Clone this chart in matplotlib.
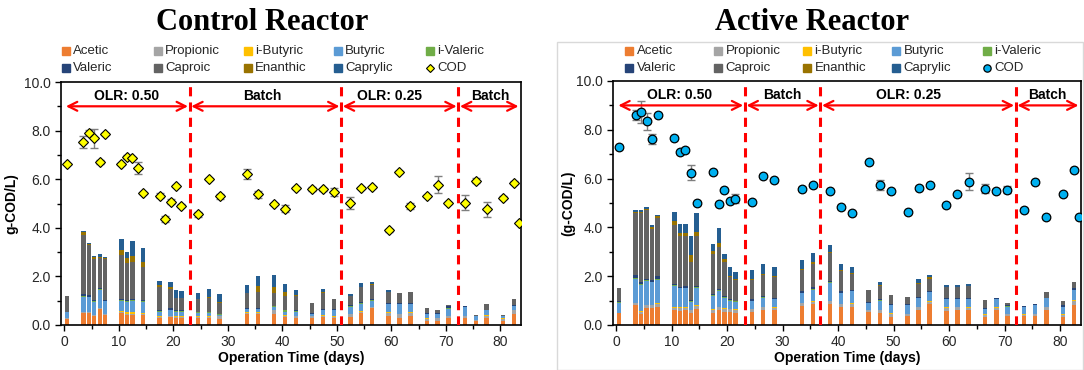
import numpy as np
import matplotlib.pyplot as plt
from matplotlib.lines import Line2D
from matplotlib.patches import Rectangle
from matplotlib.ticker import MultipleLocator, FormatStrFormatter

plt.rcParams['font.family'] = ['Liberation Sans', 'DejaVu Sans']

# Componentes (ácidos) ------------------------------------------
acids = ["Acetic", "Propionic", "i-Butyric", "Butyric", "i-Valeric",
         "Valeric", "Caproic", "Enanthic", "Caprylic"]
acid_colors = ["#ED7D31", "#A5A5A5", "#FFC000", "#5B9BD5", "#70AD47",
               "#264478", "#636363", "#997300", "#255E91"]

# Dias de amostragem
cod_days = [0.5, 3.5, 4.5, 5.5, 6.5, 7.5, 10.5, 11.5, 12.5, 13.5, 14.5, 17.5, 18.5, 19.5,
            20.5, 21.5, 24.5, 26.5, 28.5, 33.5, 35.5, 38.5, 40.5, 42.5, 45.5, 47.5, 49.5,
            52.5, 54.5, 56.5, 59.5, 61.5, 63.5, 66.5, 68.5, 70.5, 73.5, 75.5, 77.5, 80.5,
            82.5, 83.4]

# Control reactor -------------------------------------------------
ctrl_cod = [6.64, 7.54, 7.91, 7.68, 6.69, 7.87, 6.62, 6.92, 6.88, 6.45, 5.43, 5.32, 4.36, 5.08,
            5.71, 4.91, 4.55, 6.0, 5.3, 6.2, 5.38, 4.98, 4.79, 5.63, 5.6, 5.58, 5.47, 5.02,
            5.63, 5.68, 3.89, 6.29, 4.91, 5.31, 5.78, 5.02, 5.03, 5.93, 4.76, 5.24, 5.86, 4.2]
ctrl_err = [0, .25, .1, .4, .08, .05, .05, .08, .05, .25, .05, .1, .12, .1, .05, .05, .1, .05,
            .1, .2, .15, .05, .15, .05, .08, .05, .18, .25, .05, .05, .08, .05, .12, .05, .35,
            .05, .3, .1, .3, .05, .05, 0]
ctrl_bar_days = [0.5, 3.5, 4.5, 5.5, 6.5, 7.5, 10.5, 11.5, 12.5, 14.5, 17.5, 19.5, 20.5, 21.5,
                 24.5, 26.5, 28.5, 33.5, 35.5, 38.5, 40.5, 42.5, 45.5, 47.5, 49.5, 52.5, 54.5,
                 56.5, 59.5, 61.5, 63.5, 66.5, 68.5, 70.5, 73.5, 75.5, 77.5, 80.5, 82.5]
ctrl_acetic = [.23, .48, .48, .35, .65, .40, .48, .42, .42, .40, .30, .32, .30, .30, .30, .30,
               .25, .45, .45, .45, .33, .30, .30, .33, .30, .33, .50, .68, .38, .30, .38, .15,
               .15, .30, .30, .15, .30, .15, .45]
ctrl_propionic = [.05, .05, .05, .05, .05, .05, .04, .05, .05, .04, .04, .04, .04, .04, .03, .03,
                  .10, .05, .05, .15, .05, .05, .05, .05, .03, .12, .05, .05, .12, .15, .12, .10,
                  .13, .05, .05, .05, .08, .10, .15]
ctrl_ibutyric = [0, .02, .02, .02, .02, .02, .05, .05, .05, .06, .02, .02, .02, .02, .02, .02,
                 .02, .02, .02, .02, .02, .02, .02, .02, .04, .02, .03, .02, .02, .02, .02, .03,
                 .02, .02, .02, .02, .02, .02, .02]
ctrl_butyric = [.24, .62, .60, .53, .73, .50, .43, .43, .48, .45, .19, .22, .19, .19, .15, .15,
                .05, .13, .13, .13, .15, .18, .08, .20, .23, .28, .27, .25, .33, .38, .33, .17,
                .15, .28, .38, .13, .20, .08, .18]
ctrl_ivaleric = [0, .02, .02, .02, .02, .02, .02, .02, .02, .02, .02, .03, .02, .02, .02, .02,
                 .02, .02, .02, .02, .05, .02, .02, .02, .02, .02, .05, .02, .02, .02, .02, .02,
                 .02, .05, 0, 0, 0, 0, 0]
ctrl_valeric = [.02, .08, .07, .05, .05, .05, .05, .05, .05, .05, .05, .05, .05, .05, .03, .03,
                .03, .03, .05, .03, .03, .03, .03, .05, .03, .05, .05, .03, .03, .03, .03, .03,
                .03, .10, .03, .03, .02, .02, .02]
ctrl_caproic = [.67, 2.44, 2.06, 1.70, 1.23, 1.66, 1.83, 1.53, 1.53, 1.38, .93, .82, .48, .48,
                .50, .55, .43, .60, .63, .50, .57, .60, .40, .63, .42, .38, .60, .60, .45, .40,
                .45, .19, .10, .01, 0, .02, .25, .06, .25]
ctrl_enanthic = [0, .11, .05, .08, .03, .05, .20, .20, .25, .20, .10, .05, .02, .02, .02, .05,
                 .05, .02, .25, .25, .15, .02, 0, .05, 0, 0, .02, .02, 0, 0, 0, 0, 0, 0, 0, 0,
                 0, 0, 0]
ctrl_caprylic = [0, .03, .02, .02, .15, .03, .43, .25, .60, .56, .17, .24, .32, .26, .24, .32,
                 .32, .34, .40, .51, .34, .20, 0, .12, 0, .07, .15, .09, .07, .03, 0, 0, 0, 0,
                 0, 0, 0, 0, 0]

# Active reactor --------------------------------------------------
act_cod = [7.28, 8.62, 8.73, 8.35, 7.63, 8.61, 7.67, 7.07, 7.18, 6.25, 4.99, 6.26, 4.95, 5.53,
           5.09, 5.18, 5.05, 6.11, 5.93, 5.59, 5.73, 5.5, 4.82, 4.6, 6.66, 5.73, 5.48, 4.64,
           5.63, 5.73, 4.92, 5.35, 5.87, 5.59, 5.51, 5.54, 4.73, 5.87, 4.41, 5.38, 6.34, 4.43]
act_err = [.05, .2, .45, .35, .2, .05, .05, .05, .08, .3, .05, .05, .05, .05, .05, .2, .05, .05,
           .05, .05, .05, .05, .05, .05, .05, .2, .05, .05, .05, .05, .05, .05, .35, .2, .05,
           .15, .05, .05, .05, .05, .05, .05]
act_bar_days = cod_days[:-1]
act_acetic = [.48, .80, .45, .70, .70, .75, .60, .58, .60, .50, .65, .50, .60, .55, .52, .50,
              .55, .60, .60, .78, .85, .85, .72, .72, .52, .50, .32, .35, .62, .85, .57, .62,
              .60, .32, .60, .35, .35, .35, .60, .32, .83]
act_propionic = [.03, .10, .10, .10, .10, .13, .10, .10, .10, .10, .13, .12, .12, .12, .13, .12,
                 .10, .12, .10, .12, .10, .13, .13, .13, .08, .10, .13, .10, .10, .10, .11, .10,
                 .10, .08, .10, .10, .07, .10, .12, .10, .17]
act_ibutyric = [0, .02, .02, .02, .02, .02, .02, .04, .02, .02, .02, .02, .02, .02, .02, .02,
                .02, .02, .02, .02, .02, .02, .02, .05, .02, .02, .05, .02, .02, .02, .04, .02,
                .02, .05, .04, .02, .02, .02, .02, .05, .02]
act_butyric = [.40, .98, 1.08, .98, .93, .95, .88, .78, .78, .33, .72, .56, .64, .41, .33, .31,
               .31, .38, .33, .38, .48, .72, .43, .48, .28, .38, .30, .33, .36, .38, .33, .31,
               .33, .20, .31, .28, .31, .35, .36, .28, .43]
act_ivaleric = [.04, .03, .03, .03, .03, .05, .03, .02, .03, .02, .03, .03, .04, .03, .02, .02,
                .02, .03, .02, .03, .03, .03, .03, .02, .02, .02, .02, .02, .02, .02, .02, .03,
                .03, .02, .02, .02, 0, 0, 0, 0, 0]
act_valeric = [.02, .12, .07, .07, .07, .10, .07, .03, .05, .05, .05, .05, .06, .07, .03, .03,
               .05, .05, .05, .05, .07, .05, .05, .03, .03, .03, .03, .03, .03, .03, .03, .04,
               .04, .03, .03, .03, .03, .04, .02, .05, .05]
act_caproic = [.54, 2.55, 2.85, 2.80, 2.10, 2.40, 2.40, 2.10, 2.07, 1.58, 2.05, 1.62, 1.72, 1.40,
               .90, .85, .80, .85, .83, .87, .95, 1.15, .82, .67, .47, .55, .40, .31, .55, .50,
               .45, .43, .48, .32, .02, .09, 0, 0, .24, .20, .27]
act_enanthic = [0, .05, .05, .04, .05, .05, .15, .13, .13, .25, .15, .15, .18, .10, .05, .03,
                .03, .05, .05, .05, .10, .05, .05, .05, 0, .05, 0, 0, .02, .05, 0, 0, 0, 0, 0,
                0, 0, 0, 0, 0, 0]
act_caprylic = [0, .05, .07, .08, .10, .05, .39, .35, .35, .80, .80, .25, .60, .23, .39, .30,
                .37, .40, .39, .36, .37, .27, .25, .24, 0, .11, 0, 0, .15, .10, .09, .07, .06,
                0, 0, 0, 0, 0, 0, 0, 0]

# Fases de operação
ctrl_phase_lines = [23.0, 50.8, 72.3]
act_phase_lines = [23.2, 36.8, 72.0]
phase_names = ["OLR: 0.50", "Batch", "OLR: 0.25", "Batch"]
ctrl_label_x = [11.5, 36.3, 59.7, 78.1]
act_label_x = [11.5, 29.9, 52.7, 77.6]

W, H = 1084, 370
fig = plt.figure(figsize=(W / 100, H / 100), dpi=100)
px = lambda x: x / W
py = lambda y: 1 - y / H

# moldura do gráfico da direita
fig.add_artist(Rectangle((px(557), 0), 1 - px(557) - 0.0005, py(42), transform=fig.transFigure,
                         fill=False, edgecolor="#d9d9d9", lw=1))

ax1 = fig.add_axes([px(61), py(325), px(520.7 - 61), py(82) - py(325)])
ax2 = fig.add_axes([px(613.3), py(325), px(1080.7 - 613.3), py(81) - py(325)])


def draw(ax, bar_days, comps, cod, err, cod_style, lines, label_x, xlim, ylabel, ylab_x):
    bottom = np.zeros(len(bar_days))
    for vals, c in zip(comps, acid_colors):
        ax.bar(bar_days, vals, width=0.8, bottom=bottom, color=c, linewidth=0, zorder=2)
        bottom += np.array(vals)
    ax.errorbar(cod_days, cod, yerr=err, fmt="none", ecolor="#7f7f7f", elinewidth=1,
                capsize=3, capthick=1, zorder=3)
    ax.plot(cod_days, cod, linestyle="none", zorder=4, clip_on=True, **cod_style)
    for xl in lines:
        ax.plot([xl, xl], [0, 10], color="red", lw=2.2, dashes=(3, 2), zorder=5)
    edges = [xlim[0] + 0.6] + lines + [xlim[1] - 0.1]
    for i in range(4):
        ax.annotate("", xy=(edges[i] + 0.3, 9.0), xytext=(edges[i + 1] - 0.3, 9.0),
                    arrowprops=dict(arrowstyle="<->", color="red", lw=1.6, mutation_scale=16,
                                    shrinkA=0, shrinkB=0), zorder=5)
        ax.text(label_x[i], 9.42, phase_names[i], ha="center", va="center", fontsize=10,
                fontweight="bold", zorder=6)
    ax.set_xlim(xlim)
    ax.set_ylim(0, 10)
    ax.xaxis.set_major_locator(MultipleLocator(10))
    ax.xaxis.set_minor_locator(MultipleLocator(5))
    ax.yaxis.set_major_locator(MultipleLocator(2))
    ax.yaxis.set_minor_locator(MultipleLocator(1))
    ax.yaxis.set_major_formatter(FormatStrFormatter("%.1f"))
    ax.tick_params(which="both", direction="out", labelsize=10, colors="black",
                   labelcolor="#262626")
    ax.tick_params(which="major", length=4, width=1)
    ax.tick_params(which="minor", length=3, width=1)
    for s in ax.spines.values():
        s.set_linewidth(1.2)
    ax.set_xlabel("Operation Time (days)", fontsize=10, fontweight="bold", labelpad=1)
    ax.set_ylabel(ylabel, fontsize=10, fontweight="bold")
    ax.yaxis.set_label_coords(ylab_x, 0.5)


ctrl_comps = [ctrl_acetic, ctrl_propionic, ctrl_ibutyric, ctrl_butyric, ctrl_ivaleric,
              ctrl_valeric, ctrl_caproic, ctrl_enanthic, ctrl_caprylic]
act_comps = [act_acetic, act_propionic, act_ibutyric, act_butyric, act_ivaleric,
             act_valeric, act_caproic, act_enanthic, act_caprylic]
ctrl_marker = dict(marker="D", ms=4.8, mfc="#FFFF00", mec="black", mew=0.8)
act_marker = dict(marker="o", ms=6.2, mfc="#00B0F0", mec="black", mew=0.9)

draw(ax1, ctrl_bar_days, ctrl_comps, ctrl_cod, ctrl_err, ctrl_marker, ctrl_phase_lines,
     ctrl_label_x, (-0.6, 83.75), "g-COD/L)", (18 - 61) / 459.7)
draw(ax2, act_bar_days, act_comps, act_cod, act_err, act_marker, act_phase_lines,
     act_label_x, (-0.5, 83.7), "(g-COD/L)", (575 - 613.3) / 467.4)

# Títulos
fig.text(px(262), py(23), "Control Reactor", ha="center", va="center", fontsize=22,
         fontweight="bold", family="Liberation Serif")
fig.text(px(812), py(23), "Active Reactor", ha="center", va="center", fontsize=22,
         fontweight="bold", family="Liberation Serif")


# Legendas (duas linhas, cinco colunas)
def legend(cols, text_dx, cod_style):
    rows = [51, 68]
    for i, name in enumerate(acids + ["COD"]):
        x, y = cols[i % 5], rows[i // 5]
        if name == "COD":
            st = dict(cod_style)
            st["ms"] = st["ms"] * 0.85
            fig.add_artist(Line2D([px(x)], [py(y)], linestyle="none",
                                  transform=fig.transFigure, **st))
        else:
            fig.add_artist(Line2D([px(x)], [py(y)], marker="s", ms=5.5, linestyle="none",
                                  color=acid_colors[i], transform=fig.transFigure))
        fig.text(px(x + text_dx), py(y), name, ha="left", va="center", fontsize=9.5,
                 color="#262626")


legend([66, 158, 248, 338, 430], 7, ctrl_marker)
legend([629, 718, 807, 896, 987], 7.5, act_marker)

fig.savefig("out.png", dpi=100)
